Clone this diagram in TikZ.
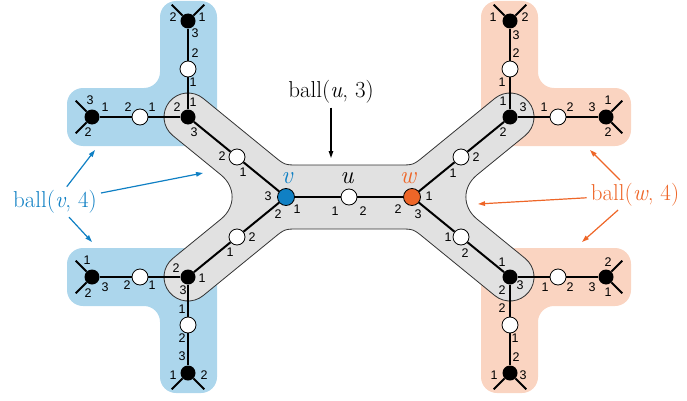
\documentclass[tikz,border=0pt]{standalone}
\usepackage{fontspec}
\setsansfont{Liberation Sans}
\usetikzlibrary{arrows.meta,calc}

\definecolor{vblue}{RGB}{16,128,196}
\definecolor{worange}{RGB}{238,102,40}
\definecolor{vregion}{RGB}{172,214,236}
\definecolor{wregion}{RGB}{250,212,193}
\definecolor{uregion}{RGB}{225,225,225}

\tikzset{
  blk/.style={circle,fill=black,inner sep=0,minimum size=15},
  wht/.style={circle,draw=black,fill=white,line width=0.8,inner sep=0,minimum size=16},
  ctr/.style={circle,draw=black,line width=0.8,inner sep=0,minimum size=17},
  port/.style={font=\sffamily\fontsize{12.5}{12.5}\selectfont,inner sep=0},
  pl/.style n args={3}{label={[port,xshift=#1,yshift=#2]center:#3}},
  nlab/.style={font=\fontsize{25}{25}\selectfont\itshape,inner sep=0},
  link/.style={line width=2},
  ballname/.style={font=\fontsize{23}{26}\selectfont,inner sep=2},
  arr/.style={line width=1.2,shorten <=2pt,-{Triangle[length=7pt,width=4.5pt]}}
}

\begin{document}
\begin{tikzpicture}[x=1pt,y=1pt]
\useasboundingbox (0,0) rectangle (687,400);

% ball(v,4) and ball(w,4)
\fill[vregion,rounded corners=16] (160,399) -- (217,399) -- (217,254) -- (67,254) -- (67,312) -- (160,312) -- cycle;
\fill[vregion,rounded corners=16] (160,7) -- (217,7) -- (217,152) -- (67,152) -- (67,94) -- (160,94) -- cycle;
\fill[wregion,rounded corners=16] (538,399) -- (481,399) -- (481,254) -- (631,254) -- (631,312) -- (538,312) -- cycle;
\fill[wregion,rounded corners=16] (538,7) -- (481,7) -- (481,152) -- (631,152) -- (631,94) -- (538,94) -- cycle;

% ball(u,3)
\filldraw[fill=uregion,draw=black!80,line width=0.8]
  (349,235) -- (298.75,235) .. controls (284.75,235) .. (273.9,243.85)
  -- (203.18,301.59) arc[start angle=50.77,end angle=230.77,radius=24]
  -- (220.94,225.13) .. controls (235.85,212.96) and (235.85,193.04) .. (220.94,180.87)
  -- (172.82,141.59) arc[start angle=129.23,end angle=309.23,radius=24]
  -- (273.9,162.15) .. controls (284.75,171) .. (298.75,171)
  -- (399.25,171) .. controls (413.25,171) .. (424.1,162.15)
  -- (494.82,104.41) arc[start angle=230.77,end angle=410.77,radius=24]
  -- (477.06,180.87) .. controls (462.15,193.04) and (462.15,212.96) .. (477.06,225.13)
  -- (525.18,264.41) arc[start angle=-50.77,end angle=129.23,radius=24]
  -- (424.1,243.85) .. controls (413.25,235) .. (399.25,235) -- cycle;

% centre nodes
\node[ctr,fill=vblue,pl={-18}{1}{3},pl={-8}{-17}{2},pl={11}{-12}{1},
  label={[nlab,text=vblue,xshift=1,yshift=19]center:v}] (v) at (286,203) {};
\node[wht,pl={-14}{-14}{1},pl={14}{-14}{2},
  label={[nlab,xshift=-2,yshift=19]center:u}] (u) at (349,203) {};
\node[ctr,fill=worange,pl={-14}{-12}{2},pl={6}{-17}{3},pl={17}{1}{1},
  label={[nlab,text=worange,xshift=-4,yshift=19]center:w}] (w) at (412,203) {};

% upper left
\node[wht,pl={-15}{1}{2},pl={6}{-15}{1}] (ul0) at (237,243) {};
\node[blk,pl={5}{15}{1},pl={-11}{10}{2},pl={6}{-15}{3}] (ul) at (188,283) {};
\node[wht,pl={7}{16}{2},pl={5}{-13}{1}] (ul1) at (188,331) {};
\node[blk,pl={-15}{4}{2},pl={14}{4}{1},pl={7}{-12}{3}] (ul2) at (188,379) {};
\node[wht,pl={-12}{10}{2},pl={12}{10}{1}] (ul3) at (140,283) {};
\node[blk,pl={-2}{17}{3},pl={13}{10}{1},pl={-4}{-15}{2}] (ul4) at (92,283) {};

% lower left
\node[wht,pl={15}{0}{2},pl={-7}{-15}{1}] (ll0) at (237,163) {};
\node[blk,pl={-12}{9}{2},pl={14}{-1}{1},pl={-5}{-13}{3}] (ll) at (188,123) {};
\node[wht,pl={-6}{16}{1},pl={-6}{-13}{2}] (ll1) at (188,75) {};
\node[blk,pl={-6}{17}{3},pl={-15}{-2}{1},pl={16}{-2}{2}] (ll2) at (188,27) {};
\node[wht,pl={-13}{-8}{2},pl={12}{-8}{1}] (ll3) at (140,123) {};
\node[blk,pl={-5}{17}{1},pl={13}{-10}{3},pl={-4}{-16}{2}] (ll4) at (92,123) {};

% upper right
\node[wht,pl={15}{0}{2},pl={-8}{-16}{1}] (ur0) at (461,243) {};
\node[blk,pl={-7}{16}{1},pl={13}{10}{3},pl={-7}{-15}{2}] (ur) at (510,283) {};
\node[wht,pl={6}{16}{2},pl={-8}{-13}{1}] (ur1) at (510,331) {};
\node[blk,pl={-17}{4}{1},pl={15}{4}{2},pl={6}{-14}{3}] (ur2) at (510,379) {};
\node[wht,pl={-14}{10}{1},pl={12}{10}{2}] (ur3) at (558,283) {};
\node[blk,pl={-14}{10}{3},pl={2}{17}{1},pl={2}{-15}{2}] (ur4) at (606,283) {};

% lower right
\node[wht,pl={-13}{0}{1},pl={4}{-16}{2}] (lr0) at (461,163) {};
\node[blk,pl={-8}{15}{1},pl={-8}{-13}{2},pl={10}{-8}{3}] (lr) at (510,123) {};
\node[wht,pl={-8}{17}{2},pl={5}{-13}{1}] (lr1) at (510,75) {};
\node[blk,pl={6}{16}{2},pl={-16}{-2}{1},pl={13}{-2}{3}] (lr2) at (510,27) {};
\node[wht,pl={-13}{-10}{1},pl={12}{-10}{2}] (lr3) at (558,123) {};
\node[blk,pl={-14}{-10}{3},pl={2}{15}{2},pl={2}{-15}{1}] (lr4) at (606,123) {};

% edges
\draw[link] (v) -- (u) -- (w);
\draw[link] (v) -- (ul0) -- (ul);
\draw[link] (v) -- (ll0) -- (ll);
\draw[link] (w) -- (ur0) -- (ur);
\draw[link] (w) -- (lr0) -- (lr);
\foreach \b in {ul,ll,ur,lr} {
  \draw[link] (\b) -- (\b1) -- (\b2);
  \draw[link] (\b) -- (\b3) -- (\b4);
}

% half edges at the leaves
\foreach \n/\a in {ul2/45,ul2/135,ul4/135,ul4/225,ll4/135,ll4/225,ll2/225,ll2/315,
                   ur2/45,ur2/135,ur4/45,ur4/315,lr4/45,lr4/315,lr2/225,lr2/315} {
  \coordinate (\n s\a) at ($(\n)+(\a:23)$);
  \draw[link] (\n) -- (\n s\a);
}

% annotations
\node[ballname] (bu) at (331,308) {ball(\textit{u}, 3)};
\coordinate (butip) at (331,242);
\draw[arr] (bu) -- (butip);

\node[ballname,text=vblue] (bv) at (55,198) {ball(\textit{v}, 4)};
\coordinate (bvtop) at (95,250);
\coordinate (bvmid) at (203,227);
\coordinate (bvbot) at (92,158);
\draw[arr,vblue] (bv) -- (bvtop);
\draw[arr,vblue] (bv) -- (bvmid);
\draw[arr,vblue] (bv) -- (bvbot);

\node[ballname,text=worange] (bw) at (635,205) {ball(\textit{w}, 4)};
\coordinate (bwtop) at (590,250);
\coordinate (bwmid) at (478,196);
\coordinate (bwbot) at (582,158);
\draw[arr,worange] (bw) -- (bwtop);
\draw[arr,worange] (bw) -- (bwmid);
\draw[arr,worange] (bw) -- (bwbot);

\end{tikzpicture}
\end{document}
